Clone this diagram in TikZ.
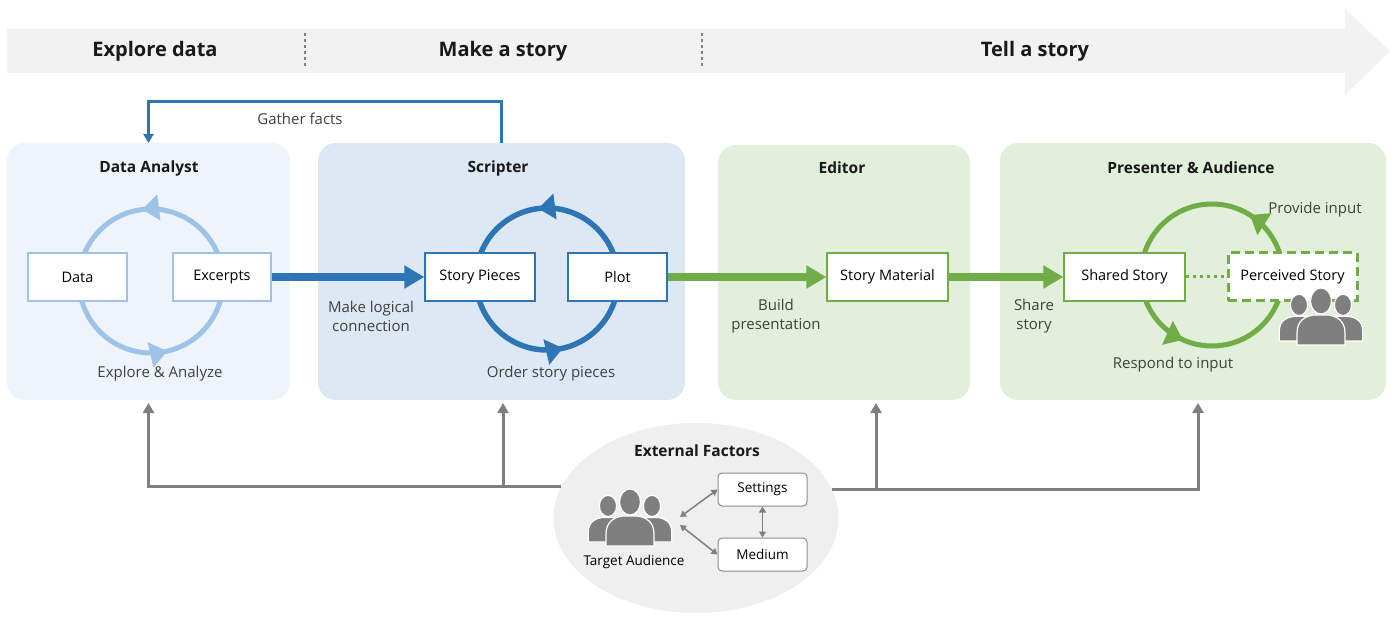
\documentclass[tikz,border=0pt]{standalone}
\usepackage{fontspec}
\setmainfont{Open Sans}
\usetikzlibrary{arrows.meta,decorations.markings,shapes.geometric,positioning}
\definecolor{bannergray}{HTML}{F2F2F2}
\definecolor{paleblue}{HTML}{EEF4FA}
\definecolor{midblue}{HTML}{DDE8F4}
\definecolor{palegreen}{HTML}{E2EFDA}
\definecolor{lightblue}{HTML}{9DC3E6}
\definecolor{deepblue}{HTML}{2E75B6}
\definecolor{leafgreen}{HTML}{70AD47}
\definecolor{icongray}{HTML}{7F7F7F}
\definecolor{ovalgray}{HTML}{EFEFEF}
\definecolor{labelgray}{HTML}{404040}
\tikzset{
  panel/.style={rectangle, rounded corners=18pt, inner sep=0pt, outer sep=0pt},
  phase/.style={font=\fontsize{20}{24}\selectfont\bfseries, text=black!90},
  heading/.style={font=\fontsize{15.5}{19}\selectfont\bfseries, text=black!90},
  note/.style={font=\fontsize{15}{19}\selectfont, text=labelgray, align=center},
  card/.style={rectangle, draw, line width=1.3pt, fill=white, minimum height=48pt,
    inner sep=0pt, font=\fontsize{14.5}{17}\selectfont},
  factor/.style={rectangle, rounded corners=4pt, draw=black!45, line width=1pt, fill=white,
    minimum width=89pt, minimum height=33pt, inner sep=0pt, font=\fontsize{13.5}{16}\selectfont},
  flow/.style={line width=8pt, -{Triangle[length=20pt,width=22pt]}},
  loop arrows/.style 2 args={postaction={decorate}, decoration={markings,
    mark=at position #1 with {\arrow{Triangle[length=17pt,width=25pt]}},
    mark=at position #2 with {\arrow{Triangle[length=17pt,width=25pt]}}}},
  feed/.style={draw=icongray, line width=3pt, -{Triangle[length=10pt,width=11pt]}, shorten >=3pt},
  link/.style={draw=icongray, line width=1.5pt, {Triangle[length=6pt,width=7pt]}-{Triangle[length=6pt,width=7pt]}},
  person/.pic={
    \filldraw[fill=icongray, draw=white, line width=1.2pt] (-24,0) -- (-24,-12)
      .. controls (-24,-24) and (-16,-29) .. (-7,-30) -- (7,-30)
      .. controls (16,-29) and (24,-24) .. (24,-12) -- (24,0) -- cycle;
    \filldraw[fill=icongray, draw=white, line width=1.2pt] (0,-44) ellipse [x radius=10.5, y radius=13];
  },
  crowd/.pic={
    \pic[scale=0.82] at (-22,-4) {person};
    \pic[scale=0.82] at (22,-4) {person};
    \pic at (0,0) {person};
  }
}
\begin{document}
\begin{tikzpicture}[x=1pt,y=-1pt]
\useasboundingbox (0,0) rectangle (1392,617);
% phases
\fill[bannergray] (7,29) -- (1345,29) -- (1345,9) -- (1390,51) -- (1345,95) -- (1345,73) -- (7,73) -- cycle;
\draw[icongray, line width=1.5pt, dash pattern=on 3pt off 3pt] (305,33) -- (305,67);
\draw[icongray, line width=1.5pt, dash pattern=on 3pt off 3pt] (702,33) -- (702,67);
\node[phase] (explore) at (155,51) {Explore data};
\node[phase] (make) at (503,51) {Make a story};
\node[phase] (tell) at (1035,51) {Tell a story};

% roles
\node[panel, fill=paleblue, minimum width=283pt, minimum height=257pt] (analyst) at (148.5,271.5) {};
\node[panel, fill=midblue, minimum width=367pt, minimum height=257pt] (scripter) at (501.5,271.5) {};
\node[panel, fill=palegreen, minimum width=252pt, minimum height=255pt] (editor) at (844,272.5) {};
\node[panel, fill=palegreen, minimum width=386pt, minimum height=257pt] (presenter) at (1193,271.5) {};
\node[heading] (analysttitle) at (149,168) {Data Analyst};
\node[heading] (scriptertitle) at (498,168) {Scripter};
\node[heading] (editortitle) at (842,168) {Editor};
\node[heading] (presentertitle) at (1191,168) {Presenter \& Audience};

\draw[deepblue, line width=3pt, -{Triangle[length=9pt,width=10pt]}] (scripter.north) -- ++(0,-41) -| (analyst.north);
\node[note] (gather) at (300,119) {Gather facts};

% loops
\coordinate (analystloop) at (151,281);
\coordinate (scripterloop) at (547,279);
\coordinate (presenterloop) at (1212,275);
\draw[lightblue, line width=5pt, loop arrows={0.27}{0.786}] (analystloop) ++(72,0) arc[start angle=0, end angle=-360, radius=72];
\draw[deepblue, line width=5.5pt, loop arrows={0.27}{0.786}] (scripterloop) ++(71,0) arc[start angle=0, end angle=-360, radius=71];
\draw[leafgreen, line width=5pt, loop arrows={0.16}{0.683}] (presenterloop) ++(71,0) arc[start angle=0, end angle=-360, radius=71];

\node[card, draw=lightblue, minimum width=99pt] (data) at (77.5,277) {Data};
\node[card, draw=lightblue, minimum width=98pt] (excerpts) at (222,277) {Excerpts};
\node[card, draw=deepblue, minimum width=110pt] (pieces) at (480,277) {Story Pieces};
\node[card, draw=deepblue, minimum width=99pt] (plot) at (617.5,277) {Plot};
\node[card, draw=leafgreen, minimum width=121pt] (material) at (887.5,277) {Story Material};
\node[card, draw=leafgreen, minimum width=121pt] (shared) at (1124.5,277) {Shared Story};
\node[card, draw=leafgreen, line width=3pt, dash pattern=on 9pt off 5pt, minimum width=129pt] (perceived) at (1292.5,277) {Perceived Story};

\draw[flow, deepblue] (excerpts) -- (pieces);
\draw[flow, leafgreen] (plot) -- (material);
\draw[flow, leafgreen] (material) -- (shared);
\draw[leafgreen, line width=3pt, dash pattern=on 3pt off 4pt] (shared) -- (perceived);

\node[note] (explorenote) at (160,374) {Explore \& Analyze};
\node[note] (logicnote) at (371,316) {Make logical\\connection};
\node[note] (ordernote) at (551,374) {Order story pieces};
\node[note] (buildnote) at (776,316) {Build\\presentation};
\node[note] (sharenote) at (1034,316) {Share\\story};
\node[note] (inputnote) at (1315,210) {Provide input};
\node[note] (respondnote) at (1173,365) {Respond to input};
\pic at (1321,345) {crowd};

% external factors
\node[ellipse, fill=ovalgray, minimum width=285pt, minimum height=190pt, inner sep=0pt, outer sep=0pt] (ext) at (696,518) {};
\node[heading, font=\fontsize{15.5}{18}\selectfont\bfseries] (exttitle) at (697,451) {External Factors};
\node[factor] (settings) at (762.5,489.5) {Settings};
\node[factor] (medium) at (762.5,554.5) {Medium};
\pic at (630,546) {crowd};
\node[font=\fontsize{13.5}{16}\selectfont] (target) at (634,562) {Target Audience};
\coordinate (audtop) at (680,517);
\coordinate (audlow) at (680,525);
\draw[link] (audtop) -- (settings.west);
\draw[link] (audlow) -- (medium.west);
\draw[link] (settings) -- (medium);

\draw[feed] (ext.167.5) -| (analyst.south);
\draw[feed] (ext.167.5) -| ([xshift=1.5pt]scripter.south);
\draw[feed] (ext.12.5) -| ([xshift=32pt]editor.south);
\draw[feed] (ext.12.5) -| ([xshift=5pt]presenter.south);
\end{tikzpicture}
\end{document}
